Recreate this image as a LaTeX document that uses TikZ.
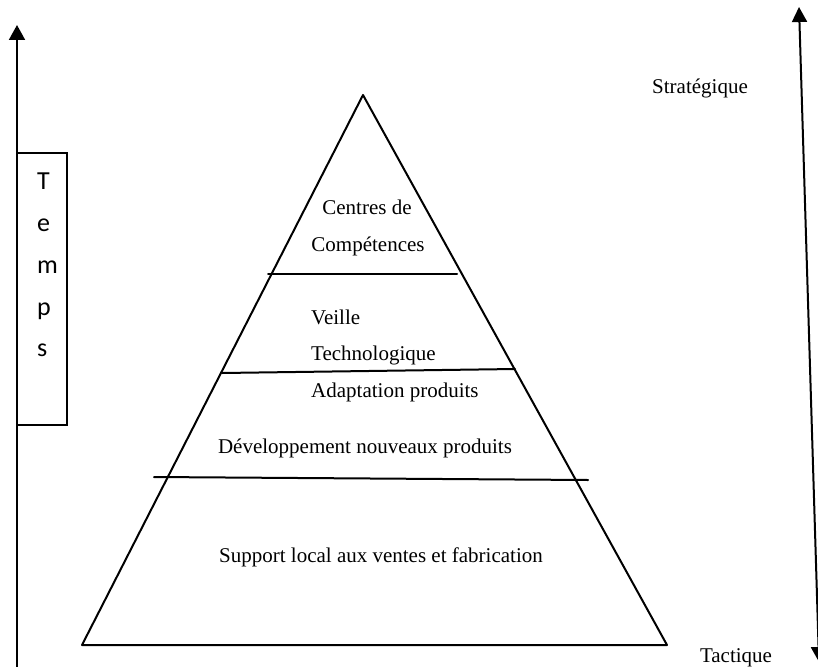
\documentclass[tikz,border=0pt]{standalone}
\usepackage{fontspec}
\setmainfont{Liberation Serif}
\newfontfamily\tempsfont{Carlito}
\usetikzlibrary{arrows.meta}
\tikzset{
  lbl/.style={inner sep=0pt, font=\fontsize{21}{25}\selectfont},
  tl/.style={inner sep=0pt, anchor=base west, font=\tempsfont\fontsize{26}{30}\selectfont},
  edge/.style={line width=2pt, line cap=round, line join=round},
  axis/.style={line width=2pt, -{Triangle[length=15pt,width=16pt]}},
  daxis/.style={line width=2pt, {Triangle[length=15pt,width=15pt]}-{Triangle[length=15pt,width=15pt]}}
}
\begin{document}
\begin{tikzpicture}[x=1pt,y=-1pt]
\useasboundingbox (0,0) rectangle (818,666);
% pyramid
\coordinate (apex) at (363,95);
\coordinate (bl) at (82,645);
\coordinate (br) at (667,645);
\draw[edge] (apex) -- (bl) -- (br) -- cycle;
% separators
\coordinate (s1a) at (268,274); \coordinate (s1b) at (457,274);
\coordinate (s2a) at (222,373); \coordinate (s2b) at (515,369);
\coordinate (s3a) at (154,477); \coordinate (s3b) at (588,480);
\draw[edge] (s1a) -- (s1b);
\draw[edge] (s2a) -- (s2b);
\draw[edge] (s3a) -- (s3b);
% labels
\node[lbl, anchor=base] (c1) at (367,214) {Centres de};
\node[lbl, anchor=base] (c2) at (368,251) {Compétences};
\node[lbl, anchor=base west] (v1) at (311,324) {Veille};
\node[lbl, anchor=base west] (v2) at (311,360) {Technologique};
\node[lbl, anchor=base west] (v3) at (311,397) {Adaptation produits};
\node[lbl, anchor=base] (d1) at (365,453) {Développement nouveaux produits};
\node[lbl, anchor=base] (sp) at (381,562) {Support local aux ventes et fabrication};
\node[lbl, anchor=base] (st) at (700,94) {Stratégique};
\node[lbl, anchor=base] (ta) at (736,662) {Tactique};
% time axis
\coordinate (tbot) at (17,668);
\coordinate (ttop) at (17,25);
\draw[axis] (tbot) -- (ttop);
\node[draw, line width=2pt, fill=white, minimum width=50pt, minimum height=272pt, inner sep=0pt] (box) at (42,289) {};
\node[tl] (t1) at (37,189) {T};
\node[tl] (t2) at (37,231) {e};
\node[tl] (t3) at (37,273) {m};
\node[tl] (t4) at (37,315) {p};
\node[tl] (t5) at (37,356) {s};
% strategic-tactic axis
\coordinate (rtop) at (799,7);
\coordinate (rbot) at (819,662);
\draw[daxis] (rbot) -- (rtop);
\end{tikzpicture}
\end{document}
